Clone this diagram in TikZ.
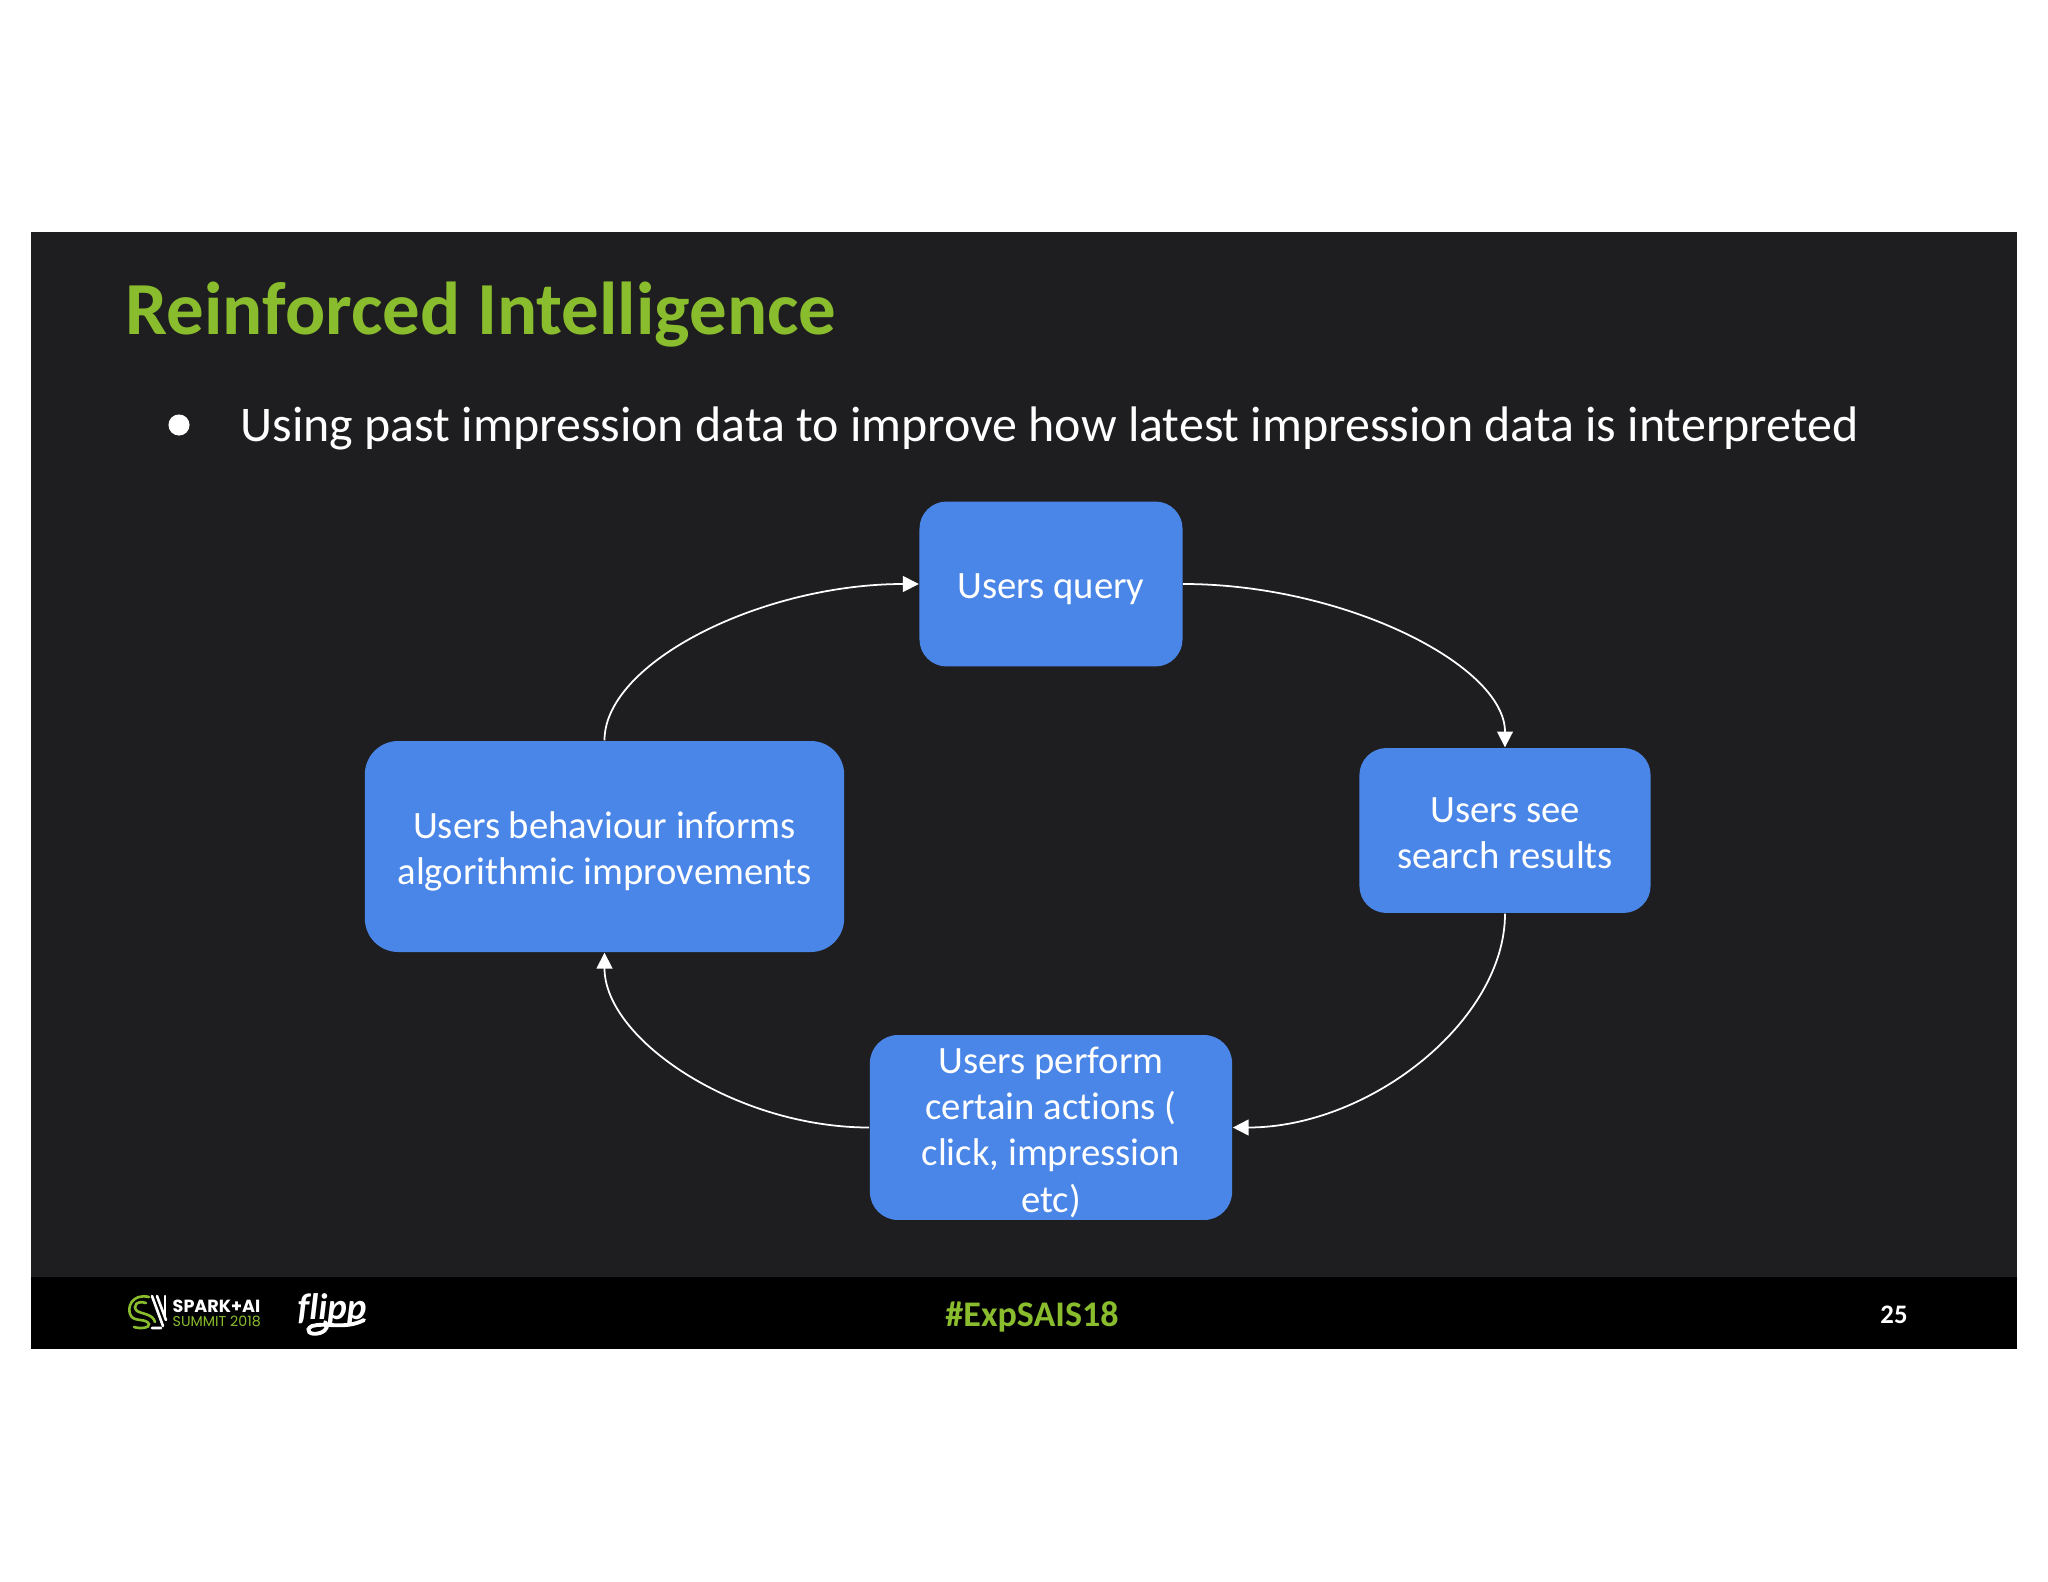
\documentclass[tikz,border=0pt]{standalone}
\usepackage{fontspec}
\setmainfont[Ligatures=NoCommon]{Carlito}
\newfontfamily\logofont{Poppins}
\usetikzlibrary{arrows.meta}
\definecolor{slidebg}{HTML}{1E1E20}
\definecolor{boxblue}{HTML}{4A86E8}
\definecolor{sparkgreen}{HTML}{8ABD2D}

\begin{document}
\begin{tikzpicture}[x=0.01cm, y=-0.01cm]
%Declaration of styles
	\tikzstyle{flowbox} = [rectangle, fill=boxblue, text=white, align=center, inner sep=0pt, font=\fontsize{11}{13.15}\selectfont] %style for the boxes
	\tikzstyle{flowarr} = [draw=white, line width=0.5pt, -{Triangle[length=4.5pt, width=4.5pt]}] %style for the curved arrows
	\tikzstyle{logoline} = [line width=0.75pt, line cap=round]
%Page, slide and footer band
	\useasboundingbox (0,0) rectangle (2048,1582);
	\fill [white] (0,0) rectangle (2048,1582);
	\fill [slidebg] (31,232) rectangle (2017,1349);
	\fill [black] (31,1277) rectangle (2017,1349);
%Heading and bullet
	\node (title) [anchor=base west, inner sep=0pt, text=sparkgreen, font=\fontsize{21.3}{25}\selectfont\bfseries] at (125,334) {Reinforced Intelligence};
	\node (dot) [circle, fill=white, inner sep=0pt, minimum size=6pt] at (179,425) {};
	\node (bullet) [anchor=base west, inner sep=0pt, text=white, font=\fontsize{14.2}{17}\selectfont] at (240,441) {Using past impression data to improve how latest impression data is interpreted};
%Nodes, the elements of the graphic
	\node (query) [flowbox, minimum width=74.8pt, minimum height=46.9pt, rounded corners=7.7pt] at (1051,584) {\rule{0pt}{9.9pt}Users query};
	\node (see) [flowbox, minimum width=82.8pt, minimum height=46.9pt, rounded corners=7.7pt] at (1505,830.5) {\rule{0pt}{8.4pt}Users see\\search results};
	\node (perform) [flowbox, minimum width=103pt, minimum height=52.6pt, rounded corners=8pt] at (1051,1127.5) {\rule{0pt}{10.2pt}Users perform\\certain actions (\\click, impression\\etc)};
	\node (behaviour) [flowbox, minimum width=136.3pt, minimum height=60pt, rounded corners=9.5pt] at (604.5,846.5) {\rule{0pt}{10.4pt}Users behaviour informs\\algorithmic improvements};
%Arrows between the boxes
	\draw [flowarr] (query.east) .. controls +(161,0) and +(0,-82) .. (see.north);
	\draw [flowarr] (see.south) .. controls +(0,107) and +(137,0) .. (perform.east);
	\draw [flowarr] (perform.west) .. controls +(-133,0) and +(0,87) .. (behaviour.south);
	\draw [flowarr] (behaviour.north) .. controls +(0,-78) and +(-157,0) .. (query.west);
%Footer texts
	\node (hashtag) [inner sep=0pt, text=sparkgreen, font=\fontsize{10.25}{12}\selectfont\bfseries] at (1032,1317) {\#ExpSAIS18};
	\node (pagenum) [inner sep=0pt, text=white, font=\fontsize{7.6}{9}\selectfont\bfseries] at (1894,1315) {25};
%Summit logo
	\draw [logoline, sparkgreen] (149,1297) .. controls (132,1293) and (126,1308) .. (131,1316) .. controls (135,1322) and (146,1318) .. (149,1324) .. controls (150,1328) and (140,1329) .. (134,1327);
	\draw [logoline, sparkgreen] (146,1303) .. controls (137,1300) and (132,1306) .. (137,1311) .. controls (142,1314) and (153,1314) .. (155,1322);
	\draw [logoline, white] (152,1296) -- (163,1326) (157,1296) -- (166,1320) (152,1328) -- (161,1328);
	\draw [logoline, white] (165,1296) -- (165,1316);
	\node (spark) [anchor=base west, inner sep=0pt, text=white, font=\logofont\fontsize{5}{6}\selectfont\bfseries] at (172,1312) {SPARK+AI};
	\node (summit) [anchor=base west, inner sep=0pt, text=sparkgreen, font=\logofont\fontsize{4.05}{5}\selectfont] at (172,1326) {SUMMIT 2018};
%Flipp logo
	\node (flipp) [inner sep=0pt, text=white, font=\fontsize{10.5}{13}\selectfont\bfseries\itshape] at (332,1309) {flipp};
	\draw [white, line width=1.1pt, line cap=round] (364,1320) .. controls (345,1330) and (325,1322) .. (312,1326) .. controls (304,1330) and (310,1336) .. (320,1333) .. controls (328,1330) and (328,1325) .. (325,1322);
\end{tikzpicture}
\end{document}
